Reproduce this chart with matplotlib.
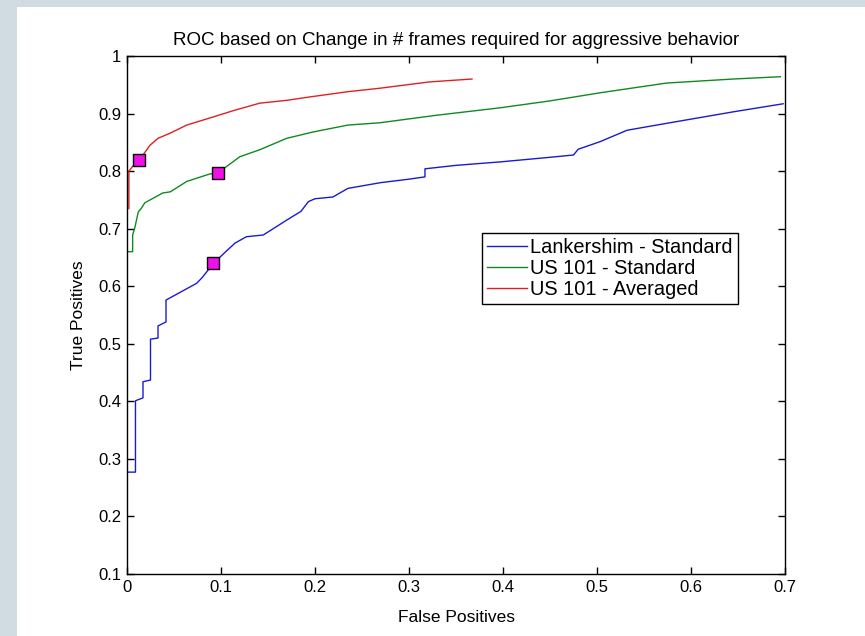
import matplotlib
matplotlib.use("Agg")
import matplotlib.pyplot as plt
from matplotlib.patches import Rectangle

# ---- data ----
blue_x = [0, 0.009, 0.009, 0.017, 0.017, 0.025, 0.025, 0.033, 0.033, 0.0415, 0.0415, 0.055, 0.074, 0.08,
          0.0915, 0.105, 0.115, 0.127, 0.145, 0.17, 0.185, 0.193, 0.2, 0.219, 0.235, 0.27, 0.3, 0.317,
          0.317, 0.35, 0.397, 0.45, 0.475, 0.48, 0.503, 0.532, 0.574, 0.645, 0.698]
blue_y = [0.277, 0.277, 0.401, 0.406, 0.434, 0.437, 0.508, 0.51, 0.531, 0.538, 0.576, 0.588, 0.605, 0.615,
          0.639, 0.66, 0.675, 0.686, 0.689, 0.715, 0.73, 0.747, 0.752, 0.755, 0.77, 0.78, 0.786, 0.79,
          0.804, 0.81, 0.816, 0.824, 0.828, 0.838, 0.851, 0.871, 0.883, 0.903, 0.917]

green_x = [0, 0.006, 0.006, 0.0085, 0.012, 0.0155, 0.019, 0.028, 0.038, 0.046, 0.0635, 0.088, 0.097,
           0.106, 0.12, 0.141, 0.17, 0.198, 0.235, 0.269, 0.329, 0.397, 0.45, 0.503, 0.574, 0.645, 0.695]
green_y = [0.66, 0.66, 0.689, 0.703, 0.729, 0.736, 0.745, 0.753, 0.762, 0.764, 0.782, 0.795, 0.797,
           0.808, 0.825, 0.837, 0.857, 0.868, 0.88, 0.884, 0.897, 0.91, 0.922, 0.936, 0.953, 0.96, 0.964]

red_x = [0.002, 0.002, 0.003, 0.01, 0.017, 0.0245, 0.033, 0.046, 0.0635, 0.0915, 0.113, 0.141, 0.17,
         0.195, 0.235, 0.269, 0.322, 0.367]
red_y = [0.735, 0.80, 0.802, 0.816, 0.828, 0.845, 0.857, 0.866, 0.88, 0.894, 0.905, 0.918, 0.923,
         0.929, 0.938, 0.944, 0.955, 0.96]

marker_x = [0.0128, 0.097, 0.0915]
marker_y = [0.819, 0.797, 0.640]

series_labels = ["Lankershim - Standard", "US 101 - Standard", "US 101 - Averaged"]
xticks = [0, 0.1, 0.2, 0.3, 0.4, 0.5, 0.6, 0.7]
xtick_labels = ["0", "0.1", "0.2", "0.3", "0.4", "0.5", "0.6", "0.7"]
yticks = [0.1, 0.2, 0.3, 0.4, 0.5, 0.6, 0.7, 0.8, 0.9, 1.0]
ytick_labels = ["0.1", "0.2", "0.3", "0.4", "0.5", "0.6", "0.7", "0.8", "0.9", "1"]

plt.rcParams['font.family'] = ['Liberation Sans', 'DejaVu Sans']

W, H = 865, 636
fig = plt.figure(figsize=(W / 100, H / 100), dpi=100)
fig.patch.set_facecolor('#d0dbe2')

bg = fig.add_axes([0, 0, 1, 1], zorder=-10)
bg.set_axis_off()
bg.set_xlim(0, 1)
bg.set_ylim(0, 1)
bg.add_patch(Rectangle((17 / W, 0), 1 - 17 / W, (H - 7) / H, facecolor='white', edgecolor='none'))

ax = fig.add_axes([127 / W, (H - 574) / H, (785 - 127) / W, (574 - 56) / H], zorder=1)
ax.set_facecolor('white')

ax.plot(blue_x, blue_y, color='#1a1ad0', lw=1.0, label=series_labels[0])
ax.plot(green_x, green_y, color='#108a20', lw=1.0, label=series_labels[1])
ax.plot(red_x, red_y, color='#e02020', lw=1.0, label=series_labels[2])
ax.plot(marker_x, marker_y, linestyle='none', marker='s', markersize=8.5,
        markerfacecolor='#f010e8', markeredgecolor='black', markeredgewidth=1.0, zorder=5)

ax.set_xlim(0, 0.7)
ax.set_ylim(0.1, 1.0)
ax.set_xticks(xticks)
ax.set_xticklabels(xtick_labels)
ax.set_yticks(yticks)
ax.set_yticklabels(ytick_labels)
ax.tick_params(direction='in', length=5, width=1, top=True, right=True, labelsize=12, pad=4)
for s in ax.spines.values():
    s.set_linewidth(1.0)

ax.set_title("ROC based on Change in # frames required for aggressive behavior", fontsize=13.5, pad=8)
ax.set_xlabel("False Positives", fontsize=12.5, labelpad=11)
ax.set_ylabel("True Positives", fontsize=12.5, labelpad=9)

leg = ax.legend(loc='upper left', bbox_to_anchor=((482 - 127) / (785 - 127), (574 - 233) / (574 - 56)),
                fontsize=14.4, frameon=True, fancybox=False, framealpha=1, edgecolor='black',
                handlelength=2.0, handletextpad=0.15, borderpad=0.25, labelspacing=0.1, borderaxespad=0)
leg.get_frame().set_linewidth(1.0)

fig.savefig("out.png", dpi=100, facecolor=fig.get_facecolor())
